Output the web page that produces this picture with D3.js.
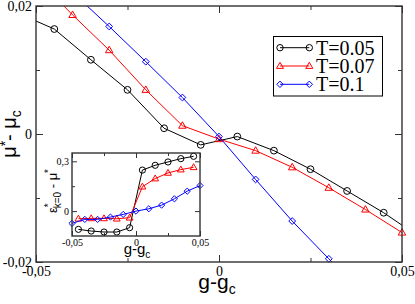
<!DOCTYPE html>
<html>
<head>
<meta charset="utf-8">
<script src="https://cdn.jsdelivr.net/npm/d3@7"></script>
<style>
body { margin: 0; background: #fff; }
</style>
</head>
<body>
<div id="chart"></div>
<script>
// main panel: mu* - mu_c against g - g_c
const blackG = [-0.055, -0.045, -0.035, -0.025, -0.015, -0.005, 0.005, 0.015, 0.025, 0.035, 0.045, 0.055];
const blackMu = [0.0189, 0.0164, 0.0116, 0.0069, 0.0009, -0.0017, -0.0004, -0.0026, -0.0055, -0.0089, -0.0123, -0.0162];
const redG = [-0.05, -0.04, -0.03, -0.02, -0.01, 0, 0.01, 0.02, 0.03, 0.04, 0.05];
const redMu = [0.0245, 0.0186, 0.0131, 0.0069, 0.0013, -0.0008, -0.0026, -0.0052, -0.0084, -0.0118, -0.0154];
const blueG = [-0.05, -0.04, -0.03, -0.02, -0.01, 0, 0.01, 0.02, 0.03, 0.04, 0.05];
const blueMu = [0.0278, 0.0221, 0.0168, 0.0113, 0.0057, -0.0004, -0.0071, -0.0136, -0.0195, -0.0255, -0.0315];

// inset: eps*_{k=0} - mu*
const insetG = [-0.045, -0.035, -0.025, -0.015, -0.005, 0.005, 0.015, 0.025, 0.035, 0.045];
const insetBlack = [-0.11, -0.12, -0.126, -0.126, -0.10, 0.247, 0.276, 0.296, 0.316, 0.33];
const insetRed = [-0.046, -0.044, -0.044, -0.046, -0.04, 0.147, 0.196, 0.23, 0.25, 0.264];
const insetBlueG = [-0.05, -0.04, -0.03, -0.02, -0.01, 0, 0.01, 0.02, 0.03, 0.04, 0.05];
const insetBlue = [-0.074, -0.05, -0.05, -0.036, -0.02, 0, 0.014, 0.036, 0.074, 0.12, 0.154];

const legendLabels = ["T=0.05", "T=0.07", "T=0.1"];
const mainXTicks = [-0.05, 0, 0.05], mainXMinor = [-0.025, 0.025];
const mainYTicks = [-0.02, 0, 0.02], mainYMinor = [-0.01, 0.01];
const insetXTicks = [-0.05, 0, 0.05], insetXMinor = [-0.025, 0.025];
const insetYTicks = [0, 0.3], insetYMinor = [0.15];

const serif = "'Liberation Serif', 'DejaVu Serif', serif";
const sans = "'Liberation Sans', Arial, sans-serif";
const fmt = v => v === 0 ? "0" : String(v).replace(".", ",");

let width = 415, height = 304;
let svg = d3.select("#chart").append("svg")
        .attr("width", width).attr("height", height);

const zip = (xs, ys) => xs.map((g, i) => ({ g: g, v: ys[i] }));
let series = [
        { data: zip(blackG, blackMu), ins: zip(insetG, insetBlack), color: "#000", shape: "circle" },
        { data: zip(redG, redMu), ins: zip(insetG, insetRed), color: "#ff0000", shape: "triangle" },
        { data: zip(blueG, blueMu), ins: zip(insetBlueG, insetBlue), color: "#0000ff", shape: "diamond" }
];

const marker = (sel, shape, color, s) => {
        let p;
        if (shape === "circle") {
                p = sel.append("circle").attr("r", s);
        } else if (shape === "triangle") {
                p = sel.append("path").attr("d", `M0,${-s * 1.15}L${s * 1.1},${s * 0.75}L${-s * 1.1},${s * 0.75}Z`);
        } else {
                p = sel.append("path").attr("d", `M0,${-s}L${s},0L0,${s}L${-s},0Z`);
        }
        p.attr("fill", "none").attr("stroke", color).attr("stroke-width", 1);
        return p;
};

const panel = (opt) => {
        let x = d3.scaleLinear().domain(opt.xd).range([opt.x0, opt.x1]);
        let y = d3.scaleLinear().domain(opt.yd).range([opt.y1, opt.y0]);
        let g = svg.append("g");
        g.append("rect").attr("x", opt.x0).attr("y", opt.y0)
                .attr("width", opt.x1 - opt.x0).attr("height", opt.y1 - opt.y0)
                .attr("fill", "#fff");
        let clipId = "clip" + opt.id;
        g.append("clipPath").attr("id", clipId).append("rect")
                .attr("x", opt.x0).attr("y", opt.y0)
                .attr("width", opt.x1 - opt.x0).attr("height", opt.y1 - opt.y0);

        // ticks, all pointing inwards
        const ax = (gen, tr, vals, len, labels) => {
                let a = g.append("g").attr("transform", tr)
                        .call(gen.tickValues(vals).tickSizeInner(-len).tickSizeOuter(0)
                                .tickPadding(opt.pad).tickFormat(labels ? fmt : ""));
                a.select(".domain").remove();
                a.selectAll("line").attr("stroke", "#333");
                a.selectAll("text").attr("font-family", serif).attr("font-size", opt.fs).attr("fill", "#000");
                return a;
        };
        ax(d3.axisBottom(x), `translate(0,${opt.y1})`, opt.xt, opt.maj, true);
        ax(d3.axisBottom(x), `translate(0,${opt.y1})`, opt.xm, opt.min, false);
        ax(d3.axisTop(x), `translate(0,${opt.y0})`, opt.xt, opt.maj, false);
        ax(d3.axisTop(x), `translate(0,${opt.y0})`, opt.xm, opt.min, false);
        ax(d3.axisLeft(y), `translate(${opt.x0},0)`, opt.yt, opt.maj, true);
        ax(d3.axisLeft(y), `translate(${opt.x0},0)`, opt.ym, opt.min, false);
        ax(d3.axisRight(y), `translate(${opt.x1},0)`, opt.yt, opt.maj, false);
        ax(d3.axisRight(y), `translate(${opt.x1},0)`, opt.ym, opt.min, false);

        let line = d3.line().x(d => x(d.g)).y(d => y(d.v));
        series.forEach(s => {
                let pts = s[opt.key];
                g.append("path").attr("d", line(pts)).attr("fill", "none")
                        .attr("stroke", s.color).attr("stroke-width", 1)
                        .attr("clip-path", `url(#${clipId})`);
                pts.filter(d => d.g >= opt.xd[0] - 1e-9 && d.g <= opt.xd[1] + 1e-9 && d.v >= opt.yd[0] && d.v <= opt.yd[1])
                        .forEach(d => {
                                let m = g.append("g").attr("transform", `translate(${x(d.g)},${y(d.v)})`);
                                marker(m, s.shape, s.color, opt.ms);
                        });
        });

        g.append("rect").attr("x", opt.x0).attr("y", opt.y0)
                .attr("width", opt.x1 - opt.x0).attr("height", opt.y1 - opt.y0)
                .attr("fill", "none").attr("stroke", "#333").attr("stroke-width", 1.4);
        return g;
};

panel({ id: "main", key: "data", xd: [-0.05, 0.05], yd: [-0.02, 0.02],
        x0: 36, x1: 402, y0: 6, y1: 262, xt: mainXTicks, xm: mainXMinor, yt: mainYTicks, ym: mainYMinor,
        maj: 7, min: 4, pad: 4, fs: 14, ms: 3.4 });

// legend
let leg = svg.append("g");
leg.append("rect").attr("x", 273.5).attr("y", 36.5).attr("width", 109).attr("height", 59.5)
        .attr("fill", "#fff").attr("stroke", "#000").attr("stroke-width", 1);
series.forEach((s, i) => {
        let ly = 47.7 + i * 18.3;
        leg.append("line").attr("x1", 280).attr("x2", 309.3).attr("y1", ly).attr("y2", ly)
                .attr("stroke", s.color).attr("stroke-width", 1);
        [280, 309.3].forEach(lx => {
                marker(leg.append("g").attr("transform", `translate(${lx},${ly})`), s.shape, s.color, 3.2);
        });
        leg.append("text").attr("x", 316).attr("y", ly + 7)
                .attr("font-family", serif).attr("font-size", 20).text(legendLabels[i]);
});

// inset
panel({ id: "inset", key: "ins", xd: [-0.05, 0.05], yd: [-0.15, 0.35],
        x0: 72, x1: 200, y0: 153, y1: 236, xt: insetXTicks, xm: insetXMinor, yt: insetYTicks, ym: insetYMinor,
        maj: 5, min: 3, pad: 3, fs: 10, ms: 3.1 });

// axis titles
let xt = svg.append("text").attr("x", 217).attr("y", 289).attr("text-anchor", "middle")
        .attr("font-family", sans).attr("font-size", 21);
xt.append("tspan").text("g-g");
xt.append("tspan").attr("dy", 5).attr("font-size", 14).text("c");

let yt = svg.append("text").attr("transform", "translate(16,134) rotate(-90)").attr("text-anchor", "middle")
        .attr("font-family", sans).attr("font-size", 20);
yt.append("tspan").text("μ");
yt.append("tspan").attr("dy", -6).attr("font-size", 14).text("*");
yt.append("tspan").attr("dy", 6).text("- μ");
yt.append("tspan").attr("dy", 5).attr("font-size", 14).text("c");

let ixt = svg.append("text").attr("x", 137).attr("y", 254).attr("text-anchor", "middle")
        .attr("font-family", sans).attr("font-size", 15);
ixt.append("tspan").text("g-g");
ixt.append("tspan").attr("dy", 4).attr("font-size", 10).text("c");

let iyt = svg.append("text").attr("transform", "translate(57,191) rotate(-90)").attr("text-anchor", "middle")
        .attr("font-family", sans).attr("font-size", 13);
iyt.append("tspan").text("ε");
iyt.append("tspan").attr("dy", -5).attr("font-size", 10).text("*");
iyt.append("tspan").attr("dx", -5).attr("dy", 9).attr("font-size", 10).text("k=0");
iyt.append("tspan").attr("dy", -4).text(" - μ");
iyt.append("tspan").attr("dy", -5).attr("font-size", 10).text("*");
</script>
</body>
</html>
